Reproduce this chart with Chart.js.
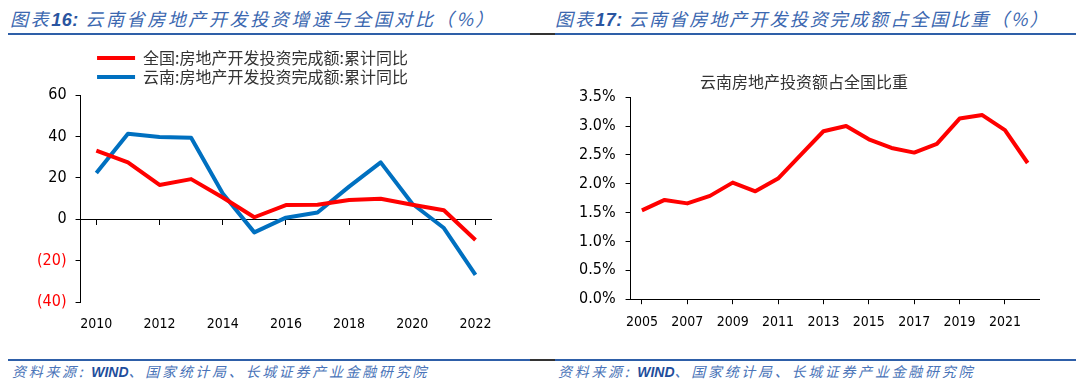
<!DOCTYPE html>
<html>
<head>
<meta charset="utf-8">
<script src="https://cdn.jsdelivr.net/npm/chart.js@4"></script>
<style>
  body { margin: 0; width: 1080px; height: 389px; background: #fff; position: relative; overflow: hidden; font-family: "Noto Sans CJK SC", sans-serif; }
  .hd { position: absolute; top: 5px; font-size: 18px; font-style: italic; color: #3b67b0; white-space: nowrap; letter-spacing: 2.6px; }
  .hd b { font-family: "Liberation Sans", sans-serif; color: #2a55a0; letter-spacing: 0.5px; }
  .rule { position: absolute; height: 2px; background: #2e5fa8; }
  .dark { position: absolute; height: 2px; background: #333; }
  .ft { position: absolute; top: 361px; font-size: 14px; font-style: italic; color: #4a74b8; letter-spacing: 2.7px; white-space: nowrap; }
  .ft b { font-family: "Liberation Sans", sans-serif; color: #1f4e9c; letter-spacing: 0; }
  .box { position: absolute; top: 40px; height: 310px; }
</style>
</head>
<body>
  <div class="hd" style="left:10px">图表<b>16:</b> 云南省房地产开发投资增速与全国对比（%）</div>
  <div class="hd" style="left:555px;letter-spacing:2.1px">图表<b>17:</b> 云南省房地产开发投资完成额占全国比重（%）</div>
  <div class="rule" style="left:8px;width:522px;top:33px"></div>
  <div class="dark" style="left:530px;width:25px;top:33px"></div>
  <div class="rule" style="left:555px;width:521px;top:33px"></div>

  <div class="box" style="left:0;width:506px"><canvas id="growthChart"></canvas></div>
  <div class="box" style="left:540px;width:540px"><canvas id="shareChart"></canvas></div>

  <div class="rule" style="left:8px;width:522px;top:359px"></div>
  <div class="dark" style="left:530px;width:25px;top:359px"></div>
  <div class="rule" style="left:555px;width:521px;top:359px"></div>
  <div class="ft" style="left:12px">资料来源: <b>WIND</b>、国家统计局、长城证券产业金融研究院</div>
  <div class="ft" style="left:558px">资料来源: <b>WIND</b>、国家统计局、长城证券产业金融研究院</div>

<script>
const growthYears = ["2010", "2011", "2012", "2013", "2014", "2015", "2016", "2017", "2018", "2019", "2020", "2021", "2022"];
const nationalGrowth = [33.2, 27.5, 16.6, 19.4, 10.5, 1.0, 6.9, 7.0, 9.3, 9.9, 7.0, 4.4, -10.0];
const yunnanGrowth = [22.3, 41.3, 39.7, 39.4, 12.5, -6.3, 0.8, 3.3, 15.8, 27.5, 7.5, -4.2, -26.8];
const growthSeriesNames = ["全国:房地产开发投资完成额:累计同比", "云南:房地产开发投资完成额:累计同比"];
const growthTicks = [-40, -20, 0, 20, 40, 60];

const shareYears = ["2005", "2006", "2007", "2008", "2009", "2010", "2011", "2012", "2013", "2014", "2015", "2016", "2017", "2018", "2019", "2020", "2021", "2022"];
const yunnanShare = [1.54, 1.72, 1.66, 1.79, 2.02, 1.87, 2.09, 2.50, 2.91, 3.00, 2.77, 2.62, 2.54, 2.69, 3.13, 3.19, 2.93, 2.36];
const shareTicks = [0, 0.5, 1.0, 1.5, 2.0, 2.5, 3.0, 3.5];
const shareTitle = "云南房地产投资额占全国比重";

const numFont = "'DejaVu Sans Condensed', 'Liberation Sans', sans-serif";
const cjkFont = "'Noto Sans CJK SC', sans-serif";
const RED = "#ff0000";
const BLUE = "#0070c0";

// tick marks only on every second category boundary
function everyOther(keepEnd) {
  return function (ctx) {
    if (ctx.index === undefined) return keepEnd ? "#000" : "rgba(0,0,0,0)";
    return ctx.index % 2 === 0 ? "#000" : "rgba(0,0,0,0)";
  };
}

function oddLabelsBlank(value, index) {
  return index % 2 === 0 ? this.getLabelForValue(value) : "";
}

new Chart(document.getElementById("growthChart"), {
  type: "line",
  data: {
    labels: growthYears,
    datasets: [
      { label: growthSeriesNames[0], data: nationalGrowth, borderColor: RED, backgroundColor: RED },
      { label: growthSeriesNames[1], data: yunnanGrowth, borderColor: BLUE, backgroundColor: BLUE }
    ]
  },
  options: {
    responsive: true,
    maintainAspectRatio: false,
    animation: false,
    layout: { padding: { left: 28, right: 13, top: 7, bottom: 3 } },
    elements: {
      point: { radius: 0 },
      line: { borderWidth: 4, tension: 0, borderJoinStyle: "round" }
    },
    plugins: {
      tooltip: { enabled: false },
      legend: {
        position: "top",
        labels: {
          boxWidth: 38,
          boxHeight: 4,
          padding: 3,
          color: "#333",
          font: { family: cjkFont, size: 16 },
          generateLabels: function (chart) {
            const items = Chart.defaults.plugins.legend.labels.generateLabels(chart);
            items.forEach(i => { i.lineWidth = 0; i.text = i.text + "\u2002\u2002"; });
            return items;
          }
        }
      }
    },
    scales: {
      x: {
        offset: true,
        grid: { display: false, drawTicks: false },
        border: { display: false },
        ticks: {
          autoSkip: false,
          maxRotation: 0,
          padding: 14,
          color: "#000",
          font: { family: numFont, size: 14 },
          callback: oddLabelsBlank
        }
      },
      x2: {
        type: "category",
        labels: growthYears,
        offset: true,
        position: { y: 0 },
        grid: { drawOnChartArea: false, tickLength: 5, color: "#000", tickColor: everyOther(false) },
        border: { color: "#000", width: 1 },
        ticks: { display: false }
      },
      y: {
        min: growthTicks[0],
        max: growthTicks[growthTicks.length - 1],
        afterBuildTicks: axis => { axis.ticks = growthTicks.map(v => ({ value: v })); },
        grid: { drawOnChartArea: false, tickLength: 5, color: "#000" },
        border: { color: "#000", width: 1 },
        ticks: {
          padding: 9,
          font: { family: numFont, size: 16 },
          color: ctx => ctx.tick.value < 0 ? RED : "#000",
          callback: v => v < 0 ? "(" + (-v) + ")" : v
        }
      }
    }
  }
});

new Chart(document.getElementById("shareChart"), {
  type: "line",
  data: {
    labels: shareYears,
    datasets: [
      { label: shareTitle, data: yunnanShare, borderColor: RED, backgroundColor: RED }
    ]
  },
  options: {
    responsive: true,
    maintainAspectRatio: false,
    animation: false,
    layout: { padding: { left: 29, right: 41, top: 0, bottom: 9 } },
    elements: {
      point: { radius: 0 },
      line: { borderWidth: 4, tension: 0, borderJoinStyle: "round" }
    },
    plugins: {
      tooltip: { enabled: false },
      legend: { display: false },
      title: {
        display: true,
        text: shareTitle,
        color: "#333",
        font: { family: cjkFont, size: 16, weight: "normal" },
        padding: { top: 32, bottom: 6 }
      }
    },
    scales: {
      x: {
        offset: true,
        grid: { drawOnChartArea: false, tickLength: 5, color: "#000", tickColor: everyOther(true) },
        border: { color: "#000", width: 1 },
        ticks: {
          autoSkip: false,
          maxRotation: 0,
          padding: 10,
          color: "#000",
          font: { family: numFont, size: 14 },
          callback: oddLabelsBlank
        }
      },
      y: {
        min: shareTicks[0],
        max: shareTicks[shareTicks.length - 1],
        afterBuildTicks: axis => { axis.ticks = shareTicks.map(v => ({ value: v })); },
        grid: { drawOnChartArea: false, tickLength: 5, color: "#000" },
        border: { color: "#000", width: 1 },
        ticks: {
          padding: 10,
          color: "#000",
          font: { family: numFont, size: 16 },
          callback: v => v.toFixed(1) + "%"
        }
      }
    }
  }
});
</script>
</body>
</html>
